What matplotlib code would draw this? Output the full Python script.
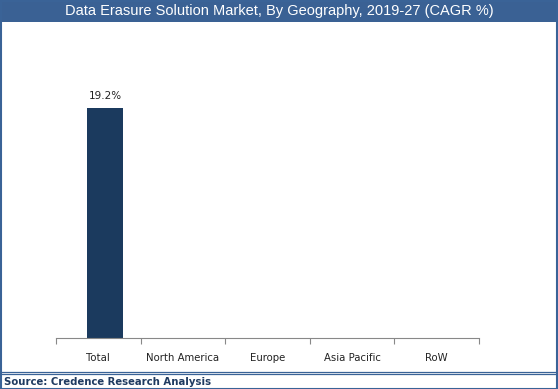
import matplotlib
matplotlib.use("Agg")
import matplotlib.pyplot as plt
from matplotlib.patches import Rectangle
from matplotlib.lines import Line2D
import numpy as np

categories = ["Total", "North America", "Europe", "Asia Pacific", "RoW"]
values = [19.2, 0, 0, 0, 0]
labels = ["19.2%", "", "", "", ""]

W, H = 558, 389
fig = plt.figure(figsize=(W / 100, H / 100), dpi=100)
fig.patch.set_facecolor("white")

border = "#3A6397"
# title bar
fig.add_artist(Rectangle((0, 1 - 22 / H), 1, 22 / H, transform=fig.transFigure,
                         facecolor="#3A6194", edgecolor="none", zorder=0))
fig.text(0.5, 1 - 11.5 / H, "Data Erasure Solution Market, By Geography, 2019-27 (CAGR %)",
         ha="center", va="center", color="white", fontsize=10.5, family="Liberation Sans")
# outer border
fig.add_artist(Rectangle((0.5 / W, 0.5 / H), 1 - 1.5 / W, 1 - 1.5 / H, transform=fig.transFigure,
                         facecolor="none", edgecolor=border, lw=1.5, zorder=5))
# footer lines
for yy in (372.3, 374.3):
    fig.add_artist(Line2D([0, 1], [1 - yy / H, 1 - yy / H], transform=fig.transFigure,
                          color=border, lw=0.9))
fig.text(4 / W, 1 - 382 / H, "Source: Credence Research Analysis", ha="left", va="center",
         color="#1F3A60", fontsize=7.3, fontweight="bold", family="DejaVu Sans")

left, right = 56 / W, 479 / W
bottom, top = 1 - 338 / H, 1 - 40 / H
ax = fig.add_axes([left, bottom, right - left, top - bottom])
x = np.arange(len(categories))
bars = ax.bar(x + 0.08, values, width=0.43, color="#1B3A5E")
for b, lab in zip(bars, labels):
    if lab:
        ax.text(b.get_x() + b.get_width() / 2, b.get_height() + 0.55, lab, ha="center",
                va="bottom", fontsize=7.5, color="#222222", family="DejaVu Sans")
ax.set_xlim(-0.5, len(categories) - 0.5)
ax.set_ylim(0, 19.2 * 298 / 230)
ax.set_xticks(np.arange(-0.5, len(categories), 1.0))
ax.set_xticklabels([])
ax.set_xticks(x, minor=True)
ax.set_xticklabels(categories, minor=True, fontsize=7.3, color="#222222", family="DejaVu Sans")
ax.tick_params(axis="x", which="major", length=4, color="#888888", direction="out")
ax.tick_params(axis="x", which="minor", length=0, pad=11)
ax.set_yticks([])
for s in ("left", "right", "top"):
    ax.spines[s].set_visible(False)
ax.spines["bottom"].set_color("#888888")
ax.spines["bottom"].set_linewidth(0.8)

fig.savefig("out.png", dpi=100)
